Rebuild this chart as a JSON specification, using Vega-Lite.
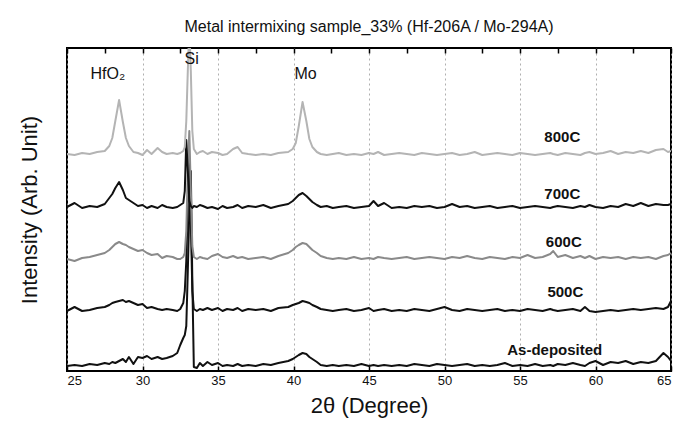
{
  "$schema": "https://vega.github.io/schema/vega-lite/v6.json",
  "width": 604,
  "height": 323,
  "autosize": {"type": "none"},
  "padding": {"left": 67, "top": 48, "right": 21, "bottom": 52},
  "background": "white",
  "config": {
    "view": {"stroke": "black", "strokeWidth": 2},
    "font": "Liberation Sans"
  },
  "title": {
    "text": "Metal intermixing sample_33% (Hf-206A / Mo-294A)",
    "fontSize": 16,
    "fontWeight": "normal",
    "font": "Liberation Sans",
    "color": "#111",
    "offset": 12
  },
  "datasets": {
    "traces": [
      {"x":25,"a":5,"b":60,"c":112,"d":164,"e":217},
      {"x":25.5,"a":6,"b":64,"c":110,"d":168,"e":216},
      {"x":26,"a":5,"b":60,"c":113,"d":163,"e":218},
      {"x":26.5,"a":7,"b":61,"c":114,"d":165,"e":217},
      {"x":27,"a":6,"b":63,"c":116,"d":164,"e":219},
      {"x":27.5,"a":8,"b":64,"c":118,"d":167,"e":220},
      {"x":27.8,"a":7,"b":66,"c":121,"d":173,"e":225},
      {"x":28.0,"a":9,"b":68,"c":124,"d":177,"e":233},
      {"x":28.2,"a":8,"b":69,"c":127,"d":183,"e":250},
      {"x":28.45,"a":10,"b":70,"c":129,"d":189,"e":271},
      {"x":28.7,"a":12,"b":71,"c":127,"d":181,"e":249},
      {"x":28.9,"a":9,"b":69,"c":126,"d":173,"e":233},
      {"x":29.1,"a":14,"b":70,"c":124,"d":171,"e":225},
      {"x":29.4,"a":7,"b":68,"c":122,"d":168,"e":219},
      {"x":29.7,"a":14,"b":66,"c":120,"d":165,"e":218},
      {"x":30.0,"a":13,"b":67,"c":121,"d":166,"e":216},
      {"x":30.3,"a":15,"b":63,"c":118,"d":163,"e":221},
      {"x":30.6,"a":12,"b":64,"c":116,"d":165,"e":217},
      {"x":31.0,"a":14,"b":62,"c":117,"d":163,"e":223},
      {"x":31.3,"a":12,"b":61,"c":113,"d":166,"e":219},
      {"x":31.6,"a":13,"b":62,"c":115,"d":164,"e":217},
      {"x":32.0,"a":15,"b":61,"c":114,"d":163,"e":218},
      {"x":32.3,"a":18,"b":60,"c":112,"d":164,"e":217},
      {"x":32.5,"a":26,"b":62,"c":112,"d":166,"e":218},
      {"x":32.7,"a":33,"b":68,"c":114,"d":168,"e":220},
      {"x":32.8,"a":36,"b":80,"c":118,"d":180,"e":224},
      {"x":32.9,"a":45,"b":110,"c":140,"d":231,"e":250},
      {"x":33.0,"a":100,"b":170,"c":200,"d":200,"e":300},
      {"x":33.1,"a":160,"b":210,"c":240,"d":170,"e":345},
      {"x":33.2,"a":200,"b":150,"c":180,"d":165,"e":300},
      {"x":33.3,"a":90,"b":80,"c":125,"d":163,"e":240},
      {"x":33.4,"a":4,"b":62,"c":114,"d":165,"e":222},
      {"x":33.6,"a":3,"b":60,"c":112,"d":164,"e":217},
      {"x":33.8,"a":8,"b":62,"c":114,"d":166,"e":219},
      {"x":34.0,"a":5,"b":61,"c":113,"d":165,"e":220},
      {"x":34.3,"a":9,"b":63,"c":112,"d":163,"e":217},
      {"x":34.6,"a":6,"b":61,"c":115,"d":164,"e":219},
      {"x":35.0,"a":8,"b":63,"c":117,"d":162,"e":218},
      {"x":35.3,"a":5,"b":60,"c":114,"d":165,"e":216},
      {"x":35.6,"a":6,"b":62,"c":113,"d":163,"e":217},
      {"x":36.0,"a":5,"b":61,"c":115,"d":164,"e":222},
      {"x":36.3,"a":7,"b":63,"c":113,"d":166,"e":224},
      {"x":36.6,"a":5,"b":60,"c":114,"d":163,"e":218},
      {"x":37.0,"a":6,"b":62,"c":112,"d":165,"e":217},
      {"x":37.5,"a":5,"b":61,"c":113,"d":164,"e":216},
      {"x":38.0,"a":7,"b":62,"c":114,"d":166,"e":217},
      {"x":38.5,"a":6,"b":60,"c":112,"d":163,"e":216},
      {"x":39.0,"a":8,"b":63,"c":115,"d":165,"e":218},
      {"x":39.65,"a":10,"b":64,"c":118,"d":167,"e":219},
      {"x":39.95,"a":12,"b":66,"c":121,"d":170,"e":222},
      {"x":40.15,"a":14,"b":67,"c":124,"d":173,"e":228},
      {"x":40.35,"a":16,"b":68,"c":126,"d":176,"e":245},
      {"x":40.6,"a":18,"b":70,"c":128,"d":178,"e":269},
      {"x":40.85,"a":17,"b":69,"c":127,"d":175,"e":250},
      {"x":41.05,"a":14,"b":68,"c":124,"d":172,"e":232},
      {"x":41.25,"a":12,"b":66,"c":121,"d":169,"e":224},
      {"x":41.55,"a":9,"b":64,"c":118,"d":166,"e":219},
      {"x":41.8,"a":6,"b":62,"c":115,"d":164,"e":217},
      {"x":42.2,"a":5,"b":61,"c":113,"d":165,"e":216},
      {"x":42.6,"a":6,"b":60,"c":112,"d":163,"e":217},
      {"x":43.0,"a":5,"b":61,"c":113,"d":164,"e":218},
      {"x":43.5,"a":6,"b":62,"c":112,"d":165,"e":216},
      {"x":44.0,"a":5,"b":60,"c":114,"d":163,"e":217},
      {"x":44.5,"a":7,"b":61,"c":112,"d":164,"e":216},
      {"x":45.0,"a":5,"b":63,"c":113,"d":165,"e":218},
      {"x":45.3,"a":6,"b":60,"c":112,"d":170,"e":217},
      {"x":45.6,"a":5,"b":61,"c":114,"d":165,"e":219},
      {"x":46.0,"a":6,"b":62,"c":113,"d":168,"e":216},
      {"x":46.5,"a":5,"b":60,"c":112,"d":163,"e":217},
      {"x":47.0,"a":6,"b":61,"c":113,"d":164,"e":218},
      {"x":47.5,"a":5,"b":60,"c":114,"d":163,"e":217},
      {"x":48.0,"a":7,"b":62,"c":112,"d":165,"e":216},
      {"x":48.5,"a":6,"b":61,"c":113,"d":164,"e":218},
      {"x":49.0,"a":5,"b":60,"c":114,"d":165,"e":217},
      {"x":49.5,"a":7,"b":62,"c":113,"d":163,"e":216},
      {"x":50.0,"a":6,"b":64,"c":112,"d":164,"e":217},
      {"x":50.5,"a":5,"b":61,"c":114,"d":167,"e":218},
      {"x":51.0,"a":6,"b":60,"c":113,"d":164,"e":216},
      {"x":51.5,"a":7,"b":62,"c":115,"d":165,"e":217},
      {"x":52.0,"a":5,"b":61,"c":113,"d":163,"e":219},
      {"x":52.5,"a":6,"b":60,"c":112,"d":164,"e":216},
      {"x":53.0,"a":5,"b":61,"c":114,"d":165,"e":217},
      {"x":53.5,"a":6,"b":62,"c":113,"d":163,"e":218},
      {"x":54.0,"a":8,"b":60,"c":112,"d":164,"e":217},
      {"x":54.5,"a":5,"b":61,"c":114,"d":165,"e":216},
      {"x":55.0,"a":6,"b":60,"c":113,"d":163,"e":218},
      {"x":55.5,"a":5,"b":62,"c":116,"d":164,"e":217},
      {"x":56.0,"a":7,"b":61,"c":113,"d":165,"e":216},
      {"x":56.5,"a":5,"b":60,"c":114,"d":164,"e":217},
      {"x":57.0,"a":6,"b":62,"c":117,"d":163,"e":218},
      {"x":57.2,"a":5,"b":61,"c":120,"d":164,"e":217},
      {"x":57.5,"a":7,"b":60,"c":114,"d":165,"e":216},
      {"x":58.0,"a":6,"b":61,"c":116,"d":164,"e":218},
      {"x":58.5,"a":8,"b":62,"c":113,"d":163,"e":217},
      {"x":59.0,"a":6,"b":60,"c":115,"d":165,"e":216},
      {"x":59.3,"a":5,"b":64,"c":113,"d":164,"e":218},
      {"x":59.6,"a":8,"b":60,"c":115,"d":166,"e":219},
      {"x":60.0,"a":10,"b":59,"c":112,"d":164,"e":217},
      {"x":60.5,"a":6,"b":60,"c":114,"d":163,"e":218},
      {"x":61.0,"a":9,"b":61,"c":113,"d":165,"e":220},
      {"x":61.5,"a":8,"b":60,"c":114,"d":164,"e":217},
      {"x":62.0,"a":10,"b":61,"c":112,"d":167,"e":219},
      {"x":62.5,"a":7,"b":62,"c":114,"d":165,"e":218},
      {"x":63.0,"a":9,"b":61,"c":113,"d":168,"e":220},
      {"x":63.5,"a":8,"b":62,"c":114,"d":165,"e":218},
      {"x":64.0,"a":10,"b":63,"c":112,"d":167,"e":221},
      {"x":64.5,"a":18,"b":62,"c":115,"d":166,"e":222},
      {"x":64.8,"a":14,"b":64,"c":116,"d":166,"e":219},
      {"x":65.0,"a":10,"b":70,"c":118,"d":167,"e":220}
    ],
    "samples": [
      {"label":"800C","x":57.8,"y":234},
      {"label":"700C","x":57.8,"y":177},
      {"label":"600C","x":57.9,"y":129},
      {"label":"500C","x":58.0,"y":79},
      {"label":"As-deposited","x":57.3,"y":21}
    ],
    "peaks": [
      {"label":"HfO₂","x":27.7,"y":297},
      {"label":"Si","x":33.25,"y":312},
      {"label":"Mo","x":40.8,"y":297}
    ]
  },
  "resolve": {"axis": {"x": "independent", "y": "independent"}},
  "layer": [
    {
      "data": {"name": "traces"},
      "transform": [{"fold": ["a","b","c","d","e"], "as": ["s","v"]}],
      "mark": {"type": "line", "clip": true, "strokeJoin": "round"},
      "encoding": {
        "x": {
          "field": "x", "type": "quantitative",
          "scale": {"domain": [25, 65], "nice": false, "zero": false},
          "axis": {
            "orient": "bottom",
            "values": [25,30,35,40,45,50,55,60,65],
            "title": "2θ (Degree)",
            "titleFontSize": 22, "titleFontWeight": "normal", "titleFont": "Liberation Sans",
            "titleColor": "#111", "titlePadding": 8,
            "labelFontSize": 13, "labelColor": "#111", "labelPadding": 8,
            "labelFont": "Liberation Sans",
            "tickSize": -5, "tickColor": "black", "tickWidth": 1.5,
            "domain": false,
            "grid": true, "gridDash": [2, 3], "gridColor": "#9a9a9a", "gridWidth": 0.8
          }
        },
        "y": {
          "field": "v", "type": "quantitative",
          "scale": {"domain": [0, 323], "nice": false, "zero": false},
          "axis": {
            "title": "Intensity (Arb. Unit)",
            "titleFontSize": 22, "titleFontWeight": "normal", "titleFont": "Liberation Sans",
            "titleColor": "#111", "titlePadding": 26,
            "labels": false, "ticks": false, "domain": false, "grid": false
          }
        },
        "detail": {"field": "s", "type": "nominal"},
        "color": {
          "field": "s", "type": "nominal",
          "scale": {"domain": ["a","b","c","d","e"], "range": ["#111111","#111111","#8a8a8a","#111111","#b4b4b4"]},
          "legend": null
        },
        "strokeWidth": {
          "field": "s", "type": "nominal",
          "scale": {"domain": ["a","b","c","d","e"], "range": [2, 2, 1.3, 2.2, 1.2]},
          "legend": null
        }
      }
    },
    {
      "data": {"name": "samples"},
      "mark": {"type": "text", "fontWeight": "bold", "fontSize": 15, "font": "Liberation Sans", "color": "#111", "align": "center", "baseline": "middle"},
      "encoding": {
        "x": {
          "field": "x", "type": "quantitative",
          "axis": {
            "orient": "top",
            "values": [25,27.5,30,32.5,35,37.5,40,42.5,45,47.5,50,52.5,55,57.5,60,62.5,65],
            "labels": false, "title": null, "domain": false, "grid": false,
            "tickSize": -5, "tickColor": "black", "tickWidth": 1.5
          }
        },
        "y": {"field": "y", "type": "quantitative", "axis": null},
        "text": {"field": "label"}
      }
    },
    {
      "data": {"name": "peaks"},
      "mark": {"type": "text", "fontSize": 16, "font": "Liberation Sans", "color": "#111", "align": "center", "baseline": "middle"},
      "encoding": {
        "x": {"field": "x", "type": "quantitative", "axis": null},
        "y": {"field": "y", "type": "quantitative", "axis": null},
        "text": {"field": "label"}
      }
    }
  ]
}
